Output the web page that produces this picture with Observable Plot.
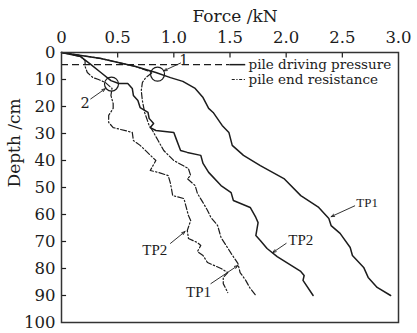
<!DOCTYPE html>
<html>
<head>
<meta charset="utf-8">
<script src="https://cdn.jsdelivr.net/npm/d3@7"></script>
<script src="https://cdn.jsdelivr.net/npm/@observablehq/plot@0.6"></script>
<style>
  body { margin: 0; background: #fff; }
  #chart svg { display: block; }
</style>
</head>
<body>
<div id="chart"></div>
<script>
// Pile driving test: force (kN) against penetration depth (cm), pairs of [force, depth]
const drivingTP1 = [
  [0, 0], [0.35, 2.2], [0.66, 5.2], [0.84, 7.4], [0.97, 9.3], [1.08, 10.7], [1.19, 13.3],
  [1.26, 16.7], [1.31, 20.7], [1.35, 22.2], [1.43, 27.0], [1.49, 29.6], [1.52, 34.4],
  [1.62, 38.1], [1.77, 41.9], [1.98, 46.7], [2.13, 53.0], [2.29, 57.4], [2.38, 61.5],
  [2.40, 64.1], [2.48, 67.0], [2.57, 72.2], [2.59, 75.2], [2.69, 79.6], [2.73, 83.3],
  [2.81, 87.0], [2.93, 90.0]
];
const drivingTP2 = [
  [0, 0], [0.17, 1.5], [0.26, 4.4], [0.35, 7.4], [0.44, 10.4], [0.51, 11.5], [0.59, 11.5],
  [0.63, 13.3], [0.64, 15.9], [0.68, 17.8], [0.70, 20.4], [0.77, 22.2], [0.78, 24.4],
  [0.82, 26.3], [0.79, 27.8], [0.84, 28.9], [1.00, 29.6], [1.02, 31.9], [1.06, 36.3],
  [1.12, 37.0], [1.24, 38.1], [1.26, 41.1], [1.31, 44.4], [1.42, 49.3], [1.51, 51.9],
  [1.53, 54.8], [1.68, 57.4], [1.73, 61.1], [1.75, 63.0], [1.73, 67.8], [1.77, 69.6],
  [1.83, 72.6], [1.92, 75.6], [2.13, 81.1], [2.16, 82.6], [2.15, 84.4], [2.24, 90.0]
];
const endTP1 = [
  [0, 0], [0.35, 2.2], [0.66, 5.2], [0.81, 7.4], [0.75, 9.3], [0.72, 11.1], [0.71, 14.1],
  [0.72, 17.8], [0.74, 22.2], [0.78, 27.0], [0.81, 28.9], [0.86, 32.6], [0.91, 36.3],
  [1.00, 40.0], [1.13, 43.0], [1.15, 45.6], [1.12, 46.7], [1.19, 49.3], [1.21, 52.2],
  [1.26, 55.6], [1.30, 58.5], [1.33, 61.1], [1.39, 64.1], [1.42, 68.5], [1.51, 74.4],
  [1.57, 78.1], [1.59, 81.5], [1.64, 84.4], [1.68, 87.4], [1.73, 90.0]
];
const endTP2 = [
  [0, 0], [0.17, 1.5], [0.21, 3.0], [0.21, 5.2], [0.23, 7.4], [0.28, 9.3], [0.33, 10.0],
  [0.39, 11.1], [0.45, 13.3], [0.44, 15.9], [0.46, 18.9], [0.46, 20.7], [0.42, 23.3],
  [0.42, 25.9], [0.46, 27.8], [0.63, 29.6], [0.64, 32.6], [0.70, 34.4], [0.84, 40.0],
  [0.79, 43.7], [0.86, 44.4], [0.95, 45.6], [0.97, 48.5], [0.99, 53.0], [1.09, 54.1],
  [1.13, 60.4], [1.15, 62.2], [1.12, 65.9], [1.13, 68.9], [1.21, 70.4], [1.24, 71.5],
  [1.21, 73.7], [1.26, 75.2], [1.30, 77.8], [1.42, 80.0], [1.48, 81.5], [1.44, 83.3],
  [1.44, 85.6], [1.48, 88.9]
];

// Axis ticks
const xTicks = [0, 0.5, 1.0, 1.5, 2.0, 2.5, 3.0];
const yTicks = [0, 10, 20, 30, 40, 50, 60, 70, 80, 90, 100];

// Legend entries and the dashed reference depth
const legendLabels = ["pile driving pressure", "pile end resistance"];
const referenceDepth = 4.5;

// Marked turning points: [force, depth, label]
const markedPoints = [[0.855, 8.0, "1"], [0.445, 11.7, "2"]];

const toRows = (pts) => pts.map(([force, depth]) => ({force, depth}));
const ink = "#1c1c1c";
const dashDot = "6,2.2,1.4,2.2";
const fmtX = d => d === 0 ? "0" : d.toFixed(1);

// Layout of annotation text and leader arrows (in data units)
const pointLabels = [
  {x: 1.09, y: 2.9, text: markedPoints[0][2], ax1: 1.06, ay1: 3.9, ax2: 0.91, ay2: 6.8},
  {x: 0.21, y: 19.0, text: markedPoints[1][2], ax1: 0.26, ay1: 17.2, ax2: 0.39, ay2: 13.4}
];
const curveLabels = [
  {x: 2.72, y: 55.5, text: "TP1", size: 13, ax1: 2.61, ay1: 56.8, ax2: 2.40, ay2: 60.8},
  {x: 2.13, y: 69.6, text: "TP2", size: 15, ax1: 2.00, ay1: 70.7, ax2: 1.88, ay2: 74.1},
  {x: 0.83, y: 73.2, text: "TP2", size: 15, ax1: 0.97, ay1: 70.7, ax2: 1.10, ay2: 66.3},
  {x: 1.22, y: 88.6, text: "TP1", size: 15, ax1: 1.33, ay1: 85.6, ax2: 1.57, ay2: 78.9}
];

const chart = Plot.plot({
  width: 417,
  height: 333,
  marginLeft: 61,
  marginRight: 19,
  marginTop: 52,
  marginBottom: 11,
  style: {fontFamily: "'DejaVu Serif', serif", fontSize: "16px", color: ink, background: "#fff"},
  x: {domain: [0, 3], axis: null},
  y: {domain: [0, 100], range: [52, 322]},
  marks: [
    // force tick labels along the top edge
    Plot.text(xTicks, {x: d => d, frameAnchor: "top", lineAnchor: "middle", dy: -15, text: fmtX, fontSize: 16.5, fill: ink}),
    Plot.axisY(yTicks, {anchor: "left", tickSize: 0, tickPadding: 6, fontSize: 16.5, label: null}),
    // inward tick marks
    Plot.ruleX(xTicks.slice(1, -1), {y1: 0, y2: 2, stroke: ink, strokeWidth: 1.2}),
    Plot.ruleY(yTicks.slice(1, -1), {x1: 0, x2: 0.045, stroke: ink, strokeWidth: 1.2}),
    // axis titles
    Plot.text(["Force /kN"], {frameAnchor: "top", lineAnchor: "middle", dy: -36, dx: 5, fontSize: 17, fill: ink}),
    Plot.text(["Depth /cm"], {frameAnchor: "left", dx: -47, rotate: -90, fontSize: 17, fill: ink}),
    // dashed reference depth line
    Plot.ruleY([referenceDepth], {x1: 0, x2: 1.5, stroke: ink, strokeWidth: 1.2, strokeDasharray: "7,4"}),
    // legend
    Plot.ruleY([referenceDepth], {x1: 1.5, x2: 1.64, stroke: ink, strokeWidth: 1.5}),
    Plot.ruleY([10], {x1: 1.52, x2: 1.64, stroke: ink, strokeWidth: 1.2, strokeDasharray: "3,1.6,1.2,1.6"}),
    Plot.text([legendLabels[0]], {x: 1.665, y: referenceDepth, textAnchor: "start", fontSize: 13.5, fill: ink}),
    Plot.text([legendLabels[1]], {x: 1.665, y: 10, textAnchor: "start", fontSize: 13.5, fill: ink}),
    // curves
    Plot.line(toRows(drivingTP1), {x: "force", y: "depth", stroke: ink, strokeWidth: 1.5}),
    Plot.line(toRows(drivingTP2), {x: "force", y: "depth", stroke: ink, strokeWidth: 1.5}),
    Plot.line(toRows(endTP1), {x: "force", y: "depth", stroke: ink, strokeWidth: 1.2, strokeDasharray: dashDot}),
    Plot.line(toRows(endTP2), {x: "force", y: "depth", stroke: ink, strokeWidth: 1.2, strokeDasharray: dashDot}),
    // marked points
    Plot.dot(markedPoints, {x: d => d[0], y: d => d[1], r: 7, stroke: ink, strokeWidth: 1.2, fill: "none"}),
    Plot.text(pointLabels, {x: "x", y: "y", text: "text", fontSize: 14.5, fill: ink}),
    Plot.arrow(pointLabels, {x1: "ax1", y1: "ay1", x2: "ax2", y2: "ay2", stroke: ink, strokeWidth: 0.9, headLength: 6, headAngle: 40}),
    // curve labels
    Plot.text(curveLabels, {x: "x", y: "y", text: "text", fontSize: d => d.size, fontFamily: "'Liberation Serif', serif", fill: ink}),
    Plot.arrow(curveLabels, {x1: "ax1", y1: "ay1", x2: "ax2", y2: "ay2", stroke: ink, strokeWidth: 0.9, headLength: 6, headAngle: 40}),
    Plot.frame({stroke: "#333", strokeWidth: 1.5})
  ]
});

document.getElementById("chart").appendChild(chart);
</script>
</body>
</html>
